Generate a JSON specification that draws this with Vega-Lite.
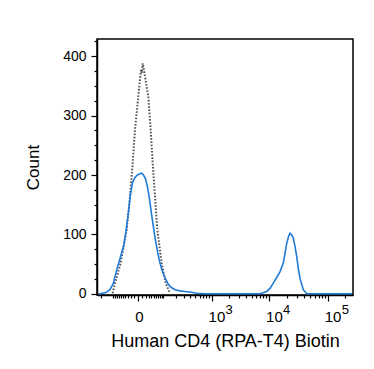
{
  "$schema": "https://vega.github.io/schema/vega-lite/v6.json",
  "autosize": "none",
  "width": 256,
  "height": 256,
  "padding": {"left": 97, "top": 39, "right": 21, "bottom": 74},
  "background": "white",
  "config": {
    "view": {"stroke": "black", "strokeWidth": 1.5},
    "font": "Liberation Sans"
  },
  "datasets": {
    "sample": [
      {"v": -225, "c": 0}, {"v": -209, "c": 0}, {"v": -153, "c": 2}, {"v": -122, "c": 7},
      {"v": -100, "c": 17}, {"v": -78, "c": 42}, {"v": -60.5, "c": 62}, {"v": -47, "c": 80},
      {"v": -37, "c": 105}, {"v": -28, "c": 138}, {"v": -21.4, "c": 168}, {"v": -15.3, "c": 187},
      {"v": -8.3, "c": 196}, {"v": -1.9, "c": 200}, {"v": 4.1, "c": 202}, {"v": 8.5, "c": 203},
      {"v": 13.5, "c": 200}, {"v": 19.6, "c": 194}, {"v": 26, "c": 180}, {"v": 33, "c": 160},
      {"v": 40.6, "c": 135}, {"v": 48.8, "c": 112}, {"v": 57.7, "c": 90}, {"v": 67.3, "c": 72},
      {"v": 77.6, "c": 55}, {"v": 91.8, "c": 40}, {"v": 110.7, "c": 27}, {"v": 132, "c": 17},
      {"v": 156, "c": 11}, {"v": 192, "c": 7}, {"v": 247, "c": 5}, {"v": 314, "c": 4},
      {"v": 394, "c": 3}, {"v": 538, "c": 1}, {"v": 757, "c": 0}, {"v": 5730, "c": 0},
      {"v": 6985, "c": 0}, {"v": 9100, "c": 4}, {"v": 10360, "c": 9}, {"v": 11800, "c": 18},
      {"v": 13380, "c": 27}, {"v": 15350, "c": 37}, {"v": 17480, "c": 52}, {"v": 18700, "c": 68},
      {"v": 19990, "c": 85}, {"v": 21450, "c": 96}, {"v": 22750, "c": 102}, {"v": 24320, "c": 99},
      {"v": 25900, "c": 94}, {"v": 27680, "c": 80}, {"v": 29590, "c": 63}, {"v": 31510, "c": 43},
      {"v": 33680, "c": 26}, {"v": 38350, "c": 7}, {"v": 43800, "c": 0}, {"v": 60650, "c": 0},
      {"v": 258500, "c": 0}
    ],
    "control": [
      {"v": -103.5, "c": 1}, {"v": -89.5, "c": 18}, {"v": -59.5, "c": 52}, {"v": -34.5, "c": 108},
      {"v": -23, "c": 164}, {"v": -14.7, "c": 220}, {"v": -8.3, "c": 276}, {"v": 0, "c": 332},
      {"v": 6.7, "c": 377}, {"v": 9, "c": 372}, {"v": 11.3, "c": 388}, {"v": 14, "c": 380},
      {"v": 28.8, "c": 332}, {"v": 37.5, "c": 276}, {"v": 45.5, "c": 220}, {"v": 55.4, "c": 164},
      {"v": 66.3, "c": 108}, {"v": 90, "c": 52}, {"v": 115.4, "c": 18}, {"v": 147.6, "c": 1}
    ]
  },
  "encoding": {
    "y": {
      "field": "c", "type": "quantitative",
      "scale": {"domain": [-2, 429], "nice": false, "zero": false},
      "axis": {
        "title": "Count",
        "titleFont": "Liberation Sans", "titleFontSize": 17, "titleFontWeight": "normal", "titleColor": "black",
        "titlePadding": 20,
        "values": [0, 25, 50, 75, 100, 125, 150, 175, 200, 225, 250, 275, 300, 325, 350, 375, 400, 425],
        "labelExpr": "datum.value % 100 == 0 ? datum.label : ''",
        "labelOverlap": false, "labelFlush": false,
        "labelFont": "Liberation Sans", "labelFontSize": 14, "labelColor": "black", "labelPadding": 5,
        "tickSize": {"condition": {"test": "datum.value % 100 == 0", "value": 6}, "value": 3},
        "tickColor": "black", "tickWidth": 1.2,
        "domainColor": "black", "domainWidth": 1.5,
        "grid": false
      }
    }
  },
  "resolve": {"axis": {"x": "independent"}},
  "layer": [
    {
      "data": {"name": "control"},
      "mark": {"type": "line", "color": "#555555", "strokeWidth": 2, "strokeDash": [1.6, 1.6], "clip": true},
      "encoding": {
        "x": {
          "field": "v", "type": "quantitative",
          "scale": {"type": "symlog", "constant": 60, "domain": [-242, 268800], "nice": false, "zero": false},
          "axis": {
            "orient": "bottom",
            "title": null,
            "values": [1000, 10000, 100000],
            "labelExpr": "datum.value == 1000 ? '3' : datum.value == 10000 ? '4' : '5'",
            "labelOverlap": false, "labelFlush": false,
            "labelFont": "Liberation Sans", "labelFontSize": 13, "labelColor": "black",
            "labelAlign": "left", "labelOffset": 13.5, "labelPadding": 8,
            "ticks": false, "domain": false, "grid": false
          }
        }
      }
    },
    {
      "data": {"name": "sample"},
      "mark": {"type": "line", "color": "#1f7bd6", "strokeWidth": 1.6, "clip": true},
      "encoding": {
        "x": {
          "field": "v", "type": "quantitative",
          "scale": {"type": "symlog", "constant": 60, "domain": [-242, 268800], "nice": false, "zero": false},
          "axis": {
            "orient": "bottom",
            "title": "Human CD4 (RPA-T4) Biotin",
            "titleFont": "Liberation Sans", "titleFontSize": 18, "titleFontWeight": "normal", "titleColor": "black",
            "titlePadding": 8,
            "values": [-200, -100, -90, -80, -70, -60, -50, -40, -30, -20, -10, 0, 10, 20, 30, 40, 50, 60, 70, 80, 90, 100, 200, 300, 400, 500, 600, 700, 800, 900, 1000, 2000, 3000, 4000, 5000, 6000, 7000, 8000, 9000, 10000, 20000, 30000, 40000, 50000, 60000, 70000, 80000, 90000, 100000, 200000],
            "labelExpr": "datum.value == 0 ? '0' : (datum.value == 1000 || datum.value == 10000 || datum.value == 100000) ? '10' : ''",
            "labelOverlap": false, "labelFlush": false,
            "labelFont": "Liberation Sans", "labelFontSize": 15, "labelColor": "black", "labelPadding": 8,
            "labelAlign": "left", "labelOffset": -3.5,
            "tickSize": {"condition": {"test": "indexof([0,1000,10000,100000], datum.value) >= 0", "value": 6}, "value": 3},
            "tickColor": "black", "tickWidth": 1.2,
            "domainColor": "black", "domainWidth": 1.5,
            "grid": false
          }
        }
      }
    }
  ]
}
